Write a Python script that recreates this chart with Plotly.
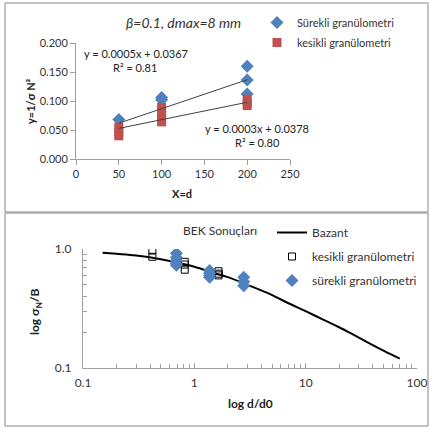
import plotly.graph_objects as go

W, H = 430, 429
FONT = "Lato"

# ---------- top chart data ----------
sur_x = [50, 100, 100, 200, 200, 200]
sur_y = [0.068, 0.106, 0.102, 0.160, 0.136, 0.112]
kes_x = [50, 50, 50, 100, 100, 100, 100, 200, 200, 200]
kes_y = [0.055, 0.047, 0.040, 0.089, 0.080, 0.072, 0.064, 0.103, 0.097, 0.092]
trend_x = [50, 200]
sur_fit = (0.0005, 0.0367)   # slope, intercept
kes_fit = (0.0003, 0.0378)
top_xticks = [0, 50, 100, 150, 200, 250]
top_yticks = [0.0, 0.05, 0.10, 0.15, 0.20]

# ---------- bottom chart data ----------
baz_x = [0.15, 0.2, 0.3, 0.5, 0.7, 1.0, 1.5, 2.0, 3.0, 5.0, 7.0, 10.0, 15.0, 20.0, 30.0, 50.0, 70.0]
baz_y = [0.93, 0.91, 0.88, 0.82, 0.77, 0.71, 0.63, 0.58, 0.50, 0.41, 0.35, 0.30, 0.25, 0.22, 0.18, 0.14, 0.12]
bk_x = [0.42, 0.42, 0.82, 0.82, 0.82, 1.65, 1.65, 1.65]
bk_y = [0.97, 0.86, 0.78, 0.74, 0.67, 0.65, 0.62, 0.60]
bs_x = [0.69, 0.69, 0.69, 0.69, 0.69, 1.37, 1.37, 1.37, 1.37, 2.78, 2.78, 2.78]
bs_y = [0.92, 0.85, 0.80, 0.75, 0.73, 0.66, 0.63, 0.60, 0.58, 0.58, 0.53, 0.49]

BLUE = "#4F81BD"
RED = "#C0504D"
AX = "#a0a0a0"


def px(x):
    return x / W


def py(y):
    return 1 - y / H


fig = go.Figure()

# top chart
fig.add_trace(go.Scatter(x=sur_x, y=sur_y, mode="markers", name="Sürekli granülometri",
                         marker=dict(symbol="diamond", size=10, color=BLUE),
                         xaxis="x", yaxis="y", legend="legend", legendgroup="a"))
fig.add_trace(go.Scatter(x=kes_x, y=kes_y, mode="markers", name="kesikli granülometri",
                         marker=dict(symbol="square", size=9, color=RED),
                         xaxis="x", yaxis="y", legend="legend", legendgroup="b"))
for a, b in (sur_fit, kes_fit):
    fig.add_trace(go.Scatter(x=trend_x, y=[a * v + b for v in trend_x], mode="lines",
                             line=dict(color="#404040", width=1), showlegend=False,
                             xaxis="x", yaxis="y", hoverinfo="skip"))

# bottom chart
fig.add_trace(go.Scatter(x=baz_x, y=baz_y, mode="lines", name="Bazant",
                         line=dict(color="black", width=2, shape="spline"),
                         xaxis="x2", yaxis="y2", legend="legend2", legendgroup="c"))
fig.add_trace(go.Scatter(x=bk_x, y=bk_y, mode="markers", name="kesikli granülometri",
                         marker=dict(symbol="square-open", size=7, color="black", line=dict(width=1)),
                         xaxis="x2", yaxis="y2", legend="legend2", legendgroup="d"))
fig.add_trace(go.Scatter(x=bs_x, y=bs_y, mode="markers", name="sürekli granülometri",
                         marker=dict(symbol="diamond", size=10, color=BLUE),
                         xaxis="x2", yaxis="y2", legend="legend2", legendgroup="e"))

tickfont = dict(family=FONT, size=11, color="#333")

fig.update_layout(
    width=W, height=H, margin=dict(l=0, r=0, t=0, b=0, autoexpand=False),
    paper_bgcolor="white", plot_bgcolor="white",
    font=dict(family=FONT, color="#222"),
    xaxis=dict(domain=[px(76), px(290)], range=[0, 250], tickvals=top_xticks,
               showline=True, linecolor=AX, ticks="outside", ticklen=5, tickcolor=AX,
               showgrid=False, zeroline=False, tickfont=tickfont, anchor="y"),
    yaxis=dict(domain=[py(159), py(43)], range=[0, 0.2], tickvals=top_yticks, tickformat=".3f",
               showline=True, linecolor=AX, ticks="outside", ticklen=5, tickcolor=AX,
               showgrid=False, zeroline=False, tickfont=tickfont, anchor="x"),
    xaxis2=dict(domain=[px(83), px(417)], type="log", range=[-1, 2],
                tickvals=[0.1, 1, 10, 100], ticktext=["0.1", "1", "10", "100"],
                showline=True, linecolor=AX, ticks="inside", ticklen=5, tickcolor=AX,
                minor=dict(ticks="inside", ticklen=4, tickcolor=AX, dtick="D1"),
                showgrid=False, zeroline=False, ticklabelstandoff=4,
                tickfont=dict(family=FONT, size=12, color="#333"), anchor="y2"),
    yaxis2=dict(domain=[py(368), py(249)], type="log", range=[-1, 0],
                tickvals=[0.1, 1], ticktext=["0.1", "1.0"],
                showline=True, linecolor=AX, ticks="inside", ticklen=5, tickcolor=AX,
                minor=dict(ticks="inside", ticklen=4, tickcolor=AX, dtick="D1"),
                showgrid=False, zeroline=False, ticklabelstandoff=8,
                tickfont=dict(family=FONT, size=12, color="#333"), anchor="x2"),
    legend=dict(x=px(257), y=py(8), xanchor="left", yanchor="top",
                font=dict(family=FONT, size=11, color="#333"), tracegroupgap=1,
                bgcolor="rgba(0,0,0,0)"),
    legend2=dict(x=px(272), y=py(218), xanchor="left", yanchor="top",
                 font=dict(family=FONT, size=12, color="#333"), tracegroupgap=5,
                 bgcolor="rgba(0,0,0,0)"),
    showlegend=True,
)

shapes = [
    dict(type="rect", xref="paper", yref="paper", x0=px(5), x1=px(428), y0=py(212), y1=py(3),
         line=dict(color="#888", width=1)),
    dict(type="rect", xref="paper", yref="paper", x0=px(5), x1=px(428), y0=py(426), y1=py(213),
         line=dict(color="#888", width=1)),
]
fig.update_layout(shapes=shapes)

ann = [
    dict(text="<i>β=0.1, dmax=8 mm</i>", x=px(183), y=py(23), font=dict(size=14, family=FONT, color="#333")),
    dict(text="<b>X=d</b>", x=px(182), y=py(193), font=dict(size=11, family=FONT, color="#222")),
    dict(text="<b>y=1/σ N²</b>", x=px(30), y=py(101), textangle=-90, font=dict(size=11, family=FONT, color="#222")),
    dict(text="y = 0.0005x + 0.0367", x=px(136), y=py(53), font=dict(size=11, family=FONT, color="#222")),
    dict(text="R² = 0.81", x=px(135), y=py(67), font=dict(size=11, family=FONT, color="#222")),
    dict(text="y = 0.0003x + 0.0378", x=px(257), y=py(128), font=dict(size=11, family=FONT, color="#222")),
    dict(text="R² = 0.80", x=px(257), y=py(142), font=dict(size=11, family=FONT, color="#222")),
    dict(text="BEK Sonuçları", x=px(220), y=py(230), font=dict(size=12, family=FONT, color="#333")),
    dict(text="<b>log d/d0</b>", x=px(250), y=py(403), font=dict(size=12, family=FONT, color="#222")),
    dict(text="<b>log σ<sub>N</sub>/B</b>", x=px(35), y=py(312), textangle=-90, font=dict(size=12, family=FONT, color="#222")),
]
for a in ann:
    a.update(xref="paper", yref="paper", showarrow=False, xanchor="center", yanchor="middle")
fig.update_layout(annotations=ann)

fig.write_html("out.html", config={"displayModeBar": False},
               post_script="document.body.style.margin='0';document.body.style.padding='0';")
